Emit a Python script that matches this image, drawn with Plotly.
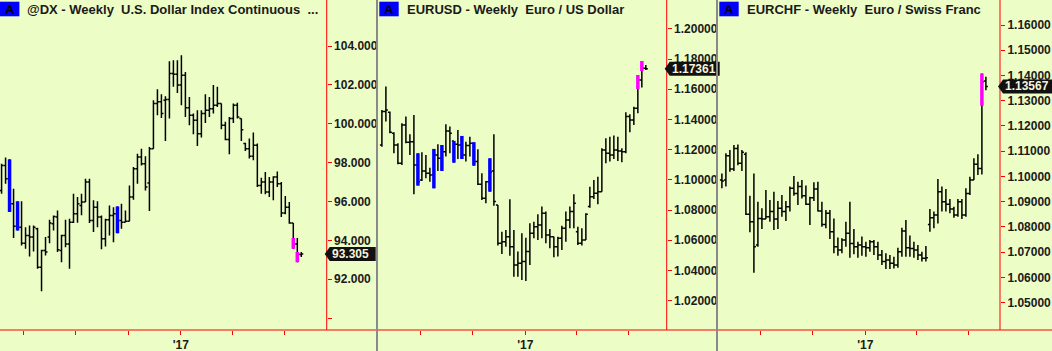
import plotly.graph_objects as go
import pandas as pd

W, H = 1052, 351
BG = "#EDFDC6"
RED = "#FF0000"
FONT = "Liberation Sans"

# ---------------- data ----------------
dx_start = "2016-02-22"
dx_high = [97.95, 98.26, 98.17, 96.66, 96.01, 96.01, 94.68, 94.77, 94.77, 94.65,
           93.52, 94.17, 95.06, 95.28, 95.54, 94.29, 95.06, 95.11, 96.40, 96.23,
           96.40, 97.17, 97.17, 96.06, 96.01, 95.28, 95.11, 95.80, 95.71, 95.75,
           95.89, 95.54, 96.83, 97.78, 98.46, 98.72, 98.33, 98.81, 101.21, 101.78,
           101.52, 101.42, 103.22, 103.27, 103.27, 103.53, 102.67, 101.38, 100.53, 100.70,
           100.70, 101.52, 101.38, 101.99, 101.90, 101.04, 100.10, 100.35, 101.04, 101.08,
           100.27, 99.03, 99.24, 99.55, 98.98, 97.23, 97.52, 97.26, 97.30, 97.55,
           97.00, 96.28, 95.97, 94.89, 94.12, 93.40]
dx_low = [96.40, 96.92, 95.46, 94.13, 94.51, 93.74, 93.57, 93.17, 93.43, 92.54,
          91.38, 93.22, 93.86, 94.51, 93.40, 92.88, 93.65, 92.54, 94.89, 94.91,
          95.30, 95.97, 94.89, 94.43, 94.68, 93.55, 93.69, 94.25, 93.91, 94.37,
          94.60, 94.94, 94.99, 96.09, 96.92, 97.86, 96.57, 95.51, 98.72, 100.44,
          100.30, 99.12, 100.27, 101.90, 101.59, 100.95, 100.35, 99.92, 99.46, 98.86,
          99.29, 100.04, 100.35, 100.53, 100.87, 99.72, 99.15, 98.43, 100.04, 100.27,
          99.12, 98.60, 98.21, 98.12, 96.75, 96.40, 96.37, 96.23, 96.06, 96.75,
          95.20, 95.34, 94.86, 93.57, 92.88, 93.14]
dx_open = [96.57, 97.86, 97.17, 95.89, 94.73, 94.68, 93.86, 94.25, 94.17, 94.60,
           92.62, 93.48, 94.17, 94.86, 95.20, 93.48, 94.25, 93.82, 94.94, 95.37,
           95.80, 95.97, 97.00, 95.03, 95.71, 95.20, 94.08, 95.06, 95.28, 95.37,
           95.03, 94.94, 94.99, 96.23, 97.69, 98.29, 97.95, 96.95, 98.72, 101.04,
           101.13, 101.21, 101.25, 102.59, 102.55, 101.99, 102.50, 100.83, 100.44, 100.18,
           99.49, 100.53, 100.70, 100.78, 100.96, 101.04, 99.92, 99.19, 100.27, 100.96,
           100.27, 98.98, 98.72, 98.33, 98.89, 96.83, 97.00, 96.49, 97.00, 97.26,
           96.92, 95.41, 95.71, 94.89, 93.82, 93.28]
dx_close = [97.86, 97.17, 95.89, 94.73, 94.68, 93.86, 94.25, 94.17, 94.68, 92.62,
            93.48, 93.40, 94.89, 95.23, 93.52, 94.25, 93.82, 94.94, 95.37, 95.89,
            95.97, 97.00, 95.03, 95.71, 95.20, 94.08, 95.06, 95.28, 95.37, 95.03,
            94.94, 94.99, 96.23, 97.69, 98.29, 97.95, 96.75, 98.72, 101.04, 101.13,
            100.53, 101.25, 102.59, 102.55, 101.99, 102.50, 100.83, 100.44, 100.18, 99.49,
            100.53, 100.70, 100.78, 100.96, 101.04, 99.92, 99.19, 100.27, 100.96, 100.35,
            99.70, 98.72, 98.33, 98.89, 96.83, 97.00, 96.49, 97.00, 97.26, 96.92,
            95.41, 95.71, 94.89, 93.82, 93.31, 93.305]
dx_paint_idx = [2, 4, 29, 73, 74]
dx_paint_top = [98.17, 96.01, 95.75, 94.13, 93.40]
dx_paint_bot = [95.46, 94.51, 94.37, 93.57, 92.88]
dx_paint_col = ["blue", "blue", "blue", "magenta", "magenta"]

eu_start = "2016-04-25"
eu_high = [1.1463, 1.1618, 1.1452, 1.1315, 1.1242, 1.1375, 1.1419, 1.1302, 1.1430, 1.1176,
           1.1183, 1.1165, 1.1081, 1.1205, 1.1236, 1.1231, 1.1368, 1.1353, 1.1258, 1.1330,
           1.1291, 1.1253, 1.1286, 1.1249, 1.1203, 1.1044, 1.0993, 1.1143, 1.1302, 1.0834,
           1.0657, 1.0668, 1.0871, 1.0668, 1.0525, 1.0646, 1.0617, 1.0712, 1.0723, 1.0772,
           1.0823, 1.0790, 1.0675, 1.0624, 1.0624, 1.0697, 1.0790, 1.0823, 1.0905, 1.0690,
           1.0679, 1.0779, 1.0955, 1.1000, 1.1021, 1.1209, 1.1275, 1.1286, 1.1293, 1.1286,
           1.1209, 1.1447, 1.1434, 1.1485, 1.1695, 1.1787, 1.1761]
eu_low = [1.1220, 1.1386, 1.1308, 1.1176, 1.1103, 1.1099, 1.1242, 1.1165, 1.0905, 1.0962,
          1.0993, 1.1010, 1.0988, 1.0944, 1.1059, 1.1059, 1.1154, 1.1176, 1.1114, 1.1138,
          1.1138, 1.1121, 1.1154, 1.1094, 1.0966, 1.0867, 1.0845, 1.0922, 1.0829, 1.0565,
          1.0509, 1.0558, 1.0498, 1.0359, 1.0359, 1.0337, 1.0330, 1.0437, 1.0613, 1.0602,
          1.0613, 1.0580, 1.0547, 1.0487, 1.0492, 1.0536, 1.0591, 1.0679, 1.0679, 1.0569,
          1.0565, 1.0602, 1.0816, 1.0874, 1.0838, 1.0922, 1.1110, 1.1121, 1.1138, 1.1125,
          1.1116, 1.1176, 1.1315, 1.1364, 1.1441, 1.1611, 1.1728]
eu_open = [1.1231, 1.1452, 1.1447, 1.1308, 1.1231, 1.1110, 1.1364, 1.1249, 1.1253, 1.1099,
           1.0999, 1.1059, 1.1044, 1.1033, 1.1165, 1.1143, 1.1187, 1.1324, 1.1258, 1.1236,
           1.1231, 1.1165, 1.1227, 1.1242, 1.1121, 1.0971, 1.0878, 1.0988, 1.1059, 1.0834,
           1.0580, 1.0591, 1.0624, 1.0558, 1.0437, 1.0448, 1.0459, 1.0525, 1.0646, 1.0690,
           1.0701, 1.0779, 1.0635, 1.0624, 1.0558, 1.0613, 1.0679, 1.0734, 1.0790, 1.0657,
           1.0580, 1.0602, 1.0823, 1.0889, 1.0911, 1.0922, 1.1198, 1.1176, 1.1165, 1.1198,
           1.1191, 1.1187, 1.1419, 1.1397, 1.1474, 1.1662, 1.1739]
eu_close = [1.1452, 1.1463, 1.1315, 1.1231, 1.1110, 1.1364, 1.1249, 1.1253, 1.1099, 1.0988,
            1.1059, 1.1044, 1.1033, 1.1165, 1.1143, 1.1187, 1.1324, 1.1308, 1.1236, 1.1231,
            1.1165, 1.1227, 1.1242, 1.1121, 1.0971, 1.0878, 1.0988, 1.1050, 1.0856, 1.0580,
            1.0591, 1.0624, 1.0558, 1.0437, 1.0448, 1.0459, 1.0525, 1.0646, 1.0690, 1.0701,
            1.0779, 1.0635, 1.0624, 1.0558, 1.0613, 1.0679, 1.0734, 1.0790, 1.0845, 1.0580,
            1.0602, 1.0772, 1.0889, 1.0911, 1.0922, 1.1198, 1.1176, 1.1165, 1.1198, 1.1191,
            1.1187, 1.1419, 1.1397, 1.1474, 1.1662, 1.1739, 1.17361]
eu_paint_idx = [9, 13, 15, 18, 20, 23, 27, 64, 65]
eu_paint_top = [1.1176, 1.1205, 1.1231, 1.1258, 1.1291, 1.1249, 1.1143, 1.1695, 1.1787]
eu_paint_bot = [1.0962, 1.0944, 1.1059, 1.1114, 1.1138, 1.1094, 1.0922, 1.1602, 1.1721]
eu_paint_col = ["blue"] * 7 + ["magenta", "magenta"]

ec_start = "2016-04-25"
ec_high = [1.1012, 1.1092, 1.1105, 1.1125, 1.1127, 1.1105, 1.1096, 1.0924, 1.1012, 1.0900,
           1.0874, 1.0946, 1.0907, 1.0940, 1.0903, 1.0927, 1.0903, 1.0960, 1.1002, 1.0979,
           1.0986, 1.0964, 1.0920, 1.0977, 1.0979, 1.0900, 1.0867, 1.0867, 1.0834, 1.0758,
           1.0755, 1.0821, 1.0900, 1.0792, 1.0742, 1.0762, 1.0742, 1.0748, 1.0748, 1.0742,
           1.0709, 1.0696, 1.0689, 1.0682, 1.0718, 1.0797, 1.0828, 1.0766, 1.0742, 1.0729,
           1.0702, 1.0725, 1.0871, 1.0861, 1.0990, 1.0960, 1.0950, 1.0911, 1.0880, 1.0911,
           1.0911, 1.0953, 1.0999, 1.1072, 1.1088, 1.1408, 1.1395]
ec_low = [1.0953, 1.0960, 1.1019, 1.1022, 1.1045, 1.1022, 1.0847, 1.0779, 1.0619, 1.0722,
          1.0792, 1.0832, 1.0821, 1.0788, 1.0792, 1.0841, 1.0824, 1.0861, 1.0924, 1.0887,
          1.0913, 1.0887, 1.0808, 1.0903, 1.0861, 1.0801, 1.0795, 1.0752, 1.0696, 1.0686,
          1.0696, 1.0722, 1.0678, 1.0692, 1.0678, 1.0686, 1.0682, 1.0702, 1.0689, 1.0669,
          1.0649, 1.0634, 1.0634, 1.0636, 1.0639, 1.0682, 1.0682, 1.0682, 1.0678, 1.0669,
          1.0663, 1.0663, 1.0781, 1.0795, 1.0814, 1.0861, 1.0861, 1.0854, 1.0837, 1.0841,
          1.0832, 1.0841, 1.0927, 1.0986, 1.1006, 1.1008, 1.1342]
ec_open = [1.0986, 1.0986, 1.1082, 1.1030, 1.1111, 1.1052, 1.1088, 1.0850, 1.0821, 1.0729,
           1.0834, 1.0832, 1.0841, 1.0861, 1.0832, 1.0874, 1.0861, 1.0880, 1.0953, 1.0933,
           1.0960, 1.0924, 1.0890, 1.0916, 1.0950, 1.0863, 1.0810, 1.0854, 1.0781, 1.0722,
           1.0709, 1.0748, 1.0775, 1.0735, 1.0722, 1.0729, 1.0722, 1.0718, 1.0742, 1.0722,
           1.0689, 1.0663, 1.0669, 1.0656, 1.0649, 1.0702, 1.0784, 1.0718, 1.0715, 1.0709,
           1.0689, 1.0676, 1.0810, 1.0837, 1.0847, 1.0940, 1.0900, 1.0890, 1.0871, 1.0847,
           1.0900, 1.0847, 1.0933, 1.0986, 1.1048, 1.1032, 1.1378]
ec_close = [1.0982, 1.1082, 1.1030, 1.1111, 1.1052, 1.1096, 1.0850, 1.0821, 1.0722, 1.0834,
            1.0832, 1.0841, 1.0861, 1.0832, 1.0874, 1.0861, 1.0880, 1.0953, 1.0933, 1.0960,
            1.0924, 1.0890, 1.0916, 1.0950, 1.0863, 1.0810, 1.0854, 1.0781, 1.0722, 1.0709,
            1.0748, 1.0775, 1.0735, 1.0722, 1.0729, 1.0722, 1.0718, 1.0742, 1.0722, 1.0689,
            1.0663, 1.0669, 1.0656, 1.0649, 1.0702, 1.0784, 1.0718, 1.0715, 1.0709, 1.0689,
            1.0676, 1.0678, 1.0837, 1.0847, 1.0940, 1.0900, 1.0890, 1.0871, 1.0847, 1.0900,
            1.0847, 1.0933, 1.0986, 1.1048, 1.1032, 1.1375, 1.13567]
ec_paint_idx = [65]
ec_paint_top = [1.1408]
ec_paint_bot = [1.1280]
ec_paint_col = ["magenta"]

titles = ["@DX - Weekly\u00a0 U.S. Dollar Index Continuous\u00a0 ...",
          "EURUSD - Weekly\u00a0 Euro / US Dollar",
          "EURCHF - Weekly\u00a0 Euro / Swiss Franc"]
last_labels = ["93.305", "1.17361", "1.13567"]

quarter_ticks = ["2016-04-01", "2016-07-01", "2016-10-01", "2017-01-01", "2017-04-01", "2017-07-01"]
quarter_text = ["", "", "", "'17", "", ""]

dx_yticks = [90, 92, 94, 96, 98, 100, 102, 104]
dx_ytext = ["", "92.000", "94.000", "96.000", "98.000", "100.000", "102.000", "104.000"]
eu_yticks = [1.02, 1.04, 1.06, 1.08, 1.10, 1.12, 1.14, 1.16, 1.18, 1.20]
eu_ytext = ["%.5f" % v for v in eu_yticks]
ec_yticks = [1.05, 1.06, 1.07, 1.08, 1.09, 1.10, 1.11, 1.12, 1.13, 1.14, 1.15, 1.16]
ec_ytext = ["%.5f" % v for v in ec_yticks]

# ---------------- layout geometry (pixels) ----------------
def px(x):
    return x / W

def py(y):
    return 1 - y / H

panels = [
    dict(start=dx_start, o=dx_open, h=dx_high, l=dx_low, c=dx_close,
         pi=dx_paint_idx, pt=dx_paint_top, pb=dx_paint_bot, pc=dx_paint_col,
         dom=(0, 326.7), xr=["2016-02-19 06:00", "2017-09-13 12:00"],
         yr=[89.39, 106.37], yt=dx_yticks, ytt=dx_ytext,
         left=0, right=376, abox=0, title_x=25, lab_w=51),
    dict(start=eu_start, o=eu_open, h=eu_high, l=eu_low, c=eu_close,
         pi=eu_paint_idx, pt=eu_paint_top, pb=eu_paint_bot, pc=eu_paint_col,
         dom=(378, 666.7), xr=["2016-04-18 04:00", "2017-09-05 12:00"],
         yr=[1.0006, 1.2191], yt=eu_yticks, ytt=eu_ytext,
         left=378, right=716, abox=379.3, title_x=405.3, lab_w=55),
    dict(start=ec_start, o=ec_open, h=ec_high, l=ec_low, c=ec_close,
         pi=ec_paint_idx, pt=ec_paint_top, pb=ec_paint_bot, pc=ec_paint_col,
         dom=(718, 1000), xr=["2016-04-18 04:00", "2017-08-24 16:00"],
         yr=[1.0392, 1.1699], yt=ec_yticks, ytt=ec_ytext,
         left=718, right=1052, abox=719.3, title_x=745.3, lab_w=56),
]

fig = go.Figure()
shapes = []
annotations = []
layout = {}
colors = {"blue": "#0000FF", "magenta": "#FF00FF"}

for k, p in enumerate(panels):
    sfx = "" if k == 0 else str(k + 1)
    xa, ya = "x" + sfx, "y" + sfx
    dates = pd.date_range(p["start"], periods=len(p["c"]), freq="7D")
    fig.add_trace(go.Ohlc(
        x=dates, open=p["o"], high=p["h"], low=p["l"], close=p["c"],
        increasing=dict(line=dict(color="#000000", width=1.5)),
        decreasing=dict(line=dict(color="#000000", width=1.5)),
        tickwidth=0.5, xaxis=xa, yaxis=ya, showlegend=False, hoverinfo="skip"))
    for col in ["blue", "magenta"]:
        xs, ys = [], []
        for i, t, b, cc in zip(p["pi"], p["pt"], p["pb"], p["pc"]):
            if cc == col:
                xs += [dates[i], dates[i], None]
                ys += [b, t, None]
        if xs:
            fig.add_trace(go.Scatter(x=xs, y=ys, mode="lines",
                                     line=dict(color=colors[col], width=3.5),
                                     xaxis=xa, yaxis=ya, showlegend=False, hoverinfo="skip"))

    layout["xaxis" + sfx] = dict(
        domain=[px(p["dom"][0]), px(p["dom"][1])], range=p["xr"], type="date",
        anchor=ya, tickvals=quarter_ticks, ticktext=quarter_text,
        ticks="outside", ticklen=4, tickwidth=1, tickcolor=RED,
        showgrid=False, zeroline=False, showline=False,
        tickfont=dict(family=FONT, size=12, color="#1A1A1A", weight="bold"),
        rangeslider=dict(visible=False), fixedrange=True)
    layout["yaxis" + sfx] = dict(
        domain=[py(330), 1], range=p["yr"], anchor=xa, side="right",
        tickvals=p["yt"], ticktext=p["ytt"],
        ticks="outside", ticklen=4, tickwidth=1, tickcolor=RED,
        showgrid=False, zeroline=False, showline=False,
        tickfont=dict(family=FONT, size=12, color="#1A1A1A", weight="bold"),
        fixedrange=True)

    # red frame lines
    shapes.append(dict(type="line", xref="paper", yref="paper",
                       x0=px(p["left"]), x1=px(p["right"]), y0=py(330), y1=py(330),
                       line=dict(color=RED, width=1)))
    shapes.append(dict(type="line", xref="paper", yref="paper",
                       x0=px(p["dom"][1]), x1=px(p["dom"][1]), y0=py(0), y1=py(330),
                       line=dict(color=RED, width=1)))
    # "A" badge
    shapes.append(dict(type="rect", xref="paper", yref="paper",
                       x0=px(p["abox"]), x1=px(p["abox"] + 19.4), y0=py(16.3), y1=py(1.7),
                       fillcolor="#0000FF", line=dict(width=0)))
    annotations.append(dict(text="A", xref="paper", yref="paper",
                            x=px(p["abox"] + 9.7), y=py(9.2), xanchor="center", yanchor="middle",
                            showarrow=False,
                            font=dict(family=FONT, size=13, color="#000000", weight="bold")))
    annotations.append(dict(text=titles[k], xref="paper", yref="paper",
                            x=px(p["title_x"]), y=py(9.5), xanchor="left", yanchor="middle",
                            showarrow=False,
                            font=dict(family=FONT, size=13, color="#1A1A1A", weight="bold")))
    # last price label
    last = p["c"][-1]
    xtip = p["dom"][1] - 2
    w = p["lab_w"]
    shapes.append(dict(type="path", xref="paper", yref=ya,
                       xsizemode="pixel", ysizemode="pixel",
                       xanchor=px(xtip), yanchor=last,
                       path="M0,0 L5,7 L%d,7 L%d,-7 L5,-7 Z" % (w, w),
                       fillcolor="#111111", line=dict(width=0)))
    annotations.append(dict(text=last_labels[k], xref="paper", yref=ya,
                            x=px(xtip + 5), y=last, xanchor="left", yanchor="middle",
                            showarrow=False,
                            font=dict(family=FONT, size=12, color="#F4F4DC", weight="bold")))

# gray panel separators
for xs in [377, 717]:
    shapes.append(dict(type="line", xref="paper", yref="paper",
                       x0=px(xs), x1=px(xs), y0=0, y1=1,
                       line=dict(color="#8A8A8A", width=2)))

fig.update_layout(
    width=W, height=H, margin=dict(l=0, r=0, t=0, b=0),
    paper_bgcolor=BG, plot_bgcolor=BG,
    shapes=shapes, annotations=annotations, showlegend=False,
    **layout)

fig.write_html("out.html", config={"displayModeBar": False})
